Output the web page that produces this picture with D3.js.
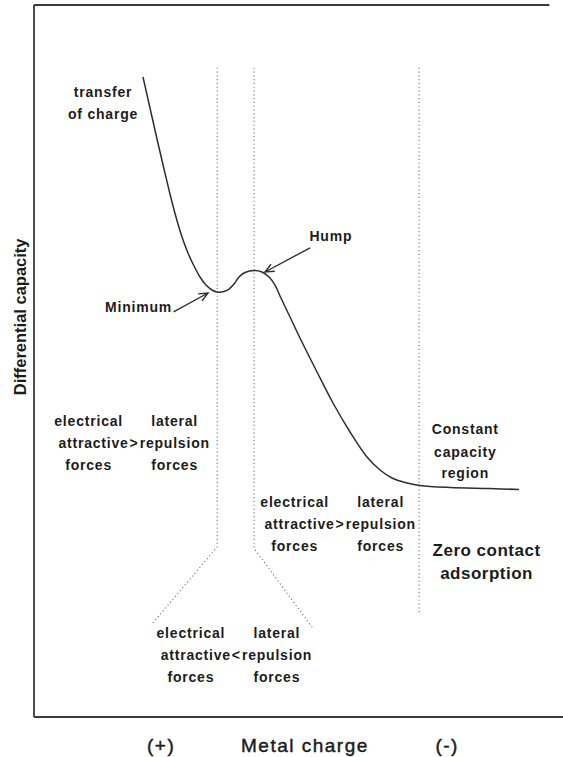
<!DOCTYPE html>
<html>
<head>
<meta charset="utf-8">
<script src="https://cdn.jsdelivr.net/npm/d3@7"></script>
<style>
  html, body { margin: 0; padding: 0; background: #fff; }
  svg { display: block; }
  text { font-family: "Liberation Sans", Arial, Helvetica, sans-serif; fill: #1c1c1c; }
</style>
</head>
<body>
<svg id="chart" width="563" height="757"></svg>
<script>
// Differential capacity (arbitrary units) against metal charge (arbitrary units, + on the left)
const charge   = [21.00, 22.35, 23.70, 25.05, 26.20, 27.36, 28.52, 29.67, 30.83, 31.98, 33.14, 34.30, 35.26, 36.61, 37.57, 38.54, 39.50, 40.66, 42.39, 43.93, 45.28, 46.44, 47.40, 49.33, 51.25, 54.53, 57.61, 60.89, 64.16, 66.67, 68.98, 71.48, 74.37, 80.15, 87.86, 93.45];
const capacity = [89.89, 85.53, 81.18, 76.97, 73.46, 70.22, 67.42, 65.17, 63.34, 61.80, 60.67, 59.97, 59.69, 59.76, 60.11, 60.81, 61.80, 62.43, 62.71, 62.50, 61.80, 60.67, 59.13, 56.18, 53.23, 48.46, 44.10, 40.03, 36.52, 34.69, 33.57, 32.94, 32.51, 32.23, 32.09, 31.95];

// Dotted region boundaries, as [charge, capacity] polylines
const boundaryA = [[35.3, 91.2], [35.3, 23.9], [22.9, 13.2]];
const boundaryB = [[42.4, 91.2], [42.4, 23.7], [53.6, 12.6]];
const boundaryC = [[74.2, 91.2], [74.2, 14.6]];

// Axis captions
const xAxisLabel = "Metal charge";
const xAxisEnds  = ["(+)", "(-)"];
const yAxisLabel = "Differential capacity";

// Force-balance captions: [left word, relation, right word, centre charge, top capacity]
const forceCaptions = [
  ["electrical", "attractive", ">", "lateral", "repulsion", 19.2, 41.6],
  ["electrical", "attractive", "<", "lateral", "repulsion", 38.9, 11.8],
  ["electrical", "attractive", ">", "lateral", "repulsion", 58.9, 30.2]
];

const svg = d3.select("#chart");

// Plot frame and scales
const frame = { left: 34, top: 5, right: 553, bottom: 717 };
const x = d3.scaleLinear().domain([0, 100]).range([frame.left, frame.right]);
const y = d3.scaleLinear().domain([0, 100]).range([frame.bottom, frame.top]);

// Frame: left, top and bottom edges
const frameG = svg.append("g").attr("stroke", "#3a3a3a").attr("stroke-width", 1.8).attr("fill", "none");
frameG.append("line").attr("x1", x(0)).attr("x2", x(0)).attr("y1", y(100)).attr("y2", y(0));
frameG.append("line").attr("x1", x(0)).attr("x2", x(99.3)).attr("y1", y(100)).attr("y2", y(100));
frameG.append("line").attr("x1", x(0)).attr("x2", 563).attr("y1", y(0)).attr("y2", y(0));

// Dotted boundaries
const polyline = d3.line().x(d => x(d[0])).y(d => y(d[1]));
svg.append("g")
  .selectAll("path")
  .data([boundaryA, boundaryB, boundaryC])
  .join("path")
  .attr("d", polyline)
  .attr("fill", "none")
  .attr("stroke", "#737373")
  .attr("stroke-width", 1.1)
  .attr("stroke-dasharray", "1.2,2.6");

// Capacity curve
const curve = d3.line()
  .x((d, i) => x(charge[i]))
  .y((d, i) => y(capacity[i]))
  .curve(d3.curveCatmullRom.alpha(0.5));
svg.append("path")
  .attr("d", curve(charge))
  .attr("fill", "none")
  .attr("stroke", "#2e2e2e")
  .attr("stroke-width", 1.5);

// Open arrowhead marker
svg.append("defs").append("marker")
  .attr("id", "arrow")
  .attr("viewBox", "-10 -6 12 12")
  .attr("refX", 0).attr("refY", 0)
  .attr("markerWidth", 12).attr("markerHeight", 12)
  .attr("markerUnits", "userSpaceOnUse")
  .attr("orient", "auto")
  .append("path")
  .attr("d", "M-9,-4 L0,0 L-9,4")
  .attr("fill", "none")
  .attr("stroke", "#2e2e2e")
  .attr("stroke-width", 1.4);

// Annotation arrows pointing at the minimum (index 12) and the hump (index 18)
const minIdx = 12, humpIdx = 18;
svg.append("line")
  .attr("x1", x(26.9)).attr("y1", y(56.9))
  .attr("x2", x(charge[minIdx]) - 9).attr("y2", y(capacity[minIdx]) + 1)
  .attr("stroke", "#2e2e2e").attr("stroke-width", 1.4)
  .attr("marker-end", "url(#arrow)");
svg.append("line")
  .attr("x1", x(53.2)).attr("y1", y(65.9))
  .attr("x2", x(charge[humpIdx]) + 11).attr("y2", y(capacity[humpIdx]) + 1.5)
  .attr("stroke", "#2e2e2e").attr("stroke-width", 1.4)
  .attr("marker-end", "url(#arrow)");

// Text helper
function label(txt, px, py, opts = {}) {
  const t = svg.append("text")
    .attr("x", px).attr("y", py)
    .attr("dy", "0.35em")
    .attr("text-anchor", opts.anchor || "middle")
    .attr("font-size", opts.size || 14)
    .attr("font-weight", opts.weight || "bold")
    .attr("letter-spacing", opts.ls != null ? opts.ls : 0.8)
    .text(txt);
  if (opts.heavy) t.attr("stroke", "#1c1c1c").attr("stroke-width", opts.heavy);
  return t;
}

// Curve annotations
label("transfer", x(13.3), y(87.8));
label("of charge", x(13.3), y(84.7));
label("Minimum", x(26.6), y(57.6), { anchor: "end" });
label("Hump", x(57.2), y(67.6));
label("Constant", x(83.1), y(40.4));
label("capacity", x(83.1), y(37.2));
label("region", x(83.1), y(34.3));
label("Zero contact", x(87.2), y(23.5), { size: 17, ls: 0.5 });
label("adsorption", x(87.2), y(20.2), { size: 17, ls: 0.5 });

// Force-balance captions
const lineGap = 22;
forceCaptions.forEach(([l1, l2, rel, r1, r2, cx, cy]) => {
  const px = x(cx), py = y(cy);
  label(l1, px - 45, py);
  label(l2, px - 5, py + lineGap, { anchor: "end" });
  label(rel, px, py + lineGap, { ls: 0 });
  label(r2, px + 6, py + lineGap, { anchor: "start" });
  label(r1, px + 41, py);
  label("forces", px - 45, py + 2 * lineGap);
  label("forces", px + 41, py + 2 * lineGap);
});

// Axis captions
const axisOpts = { size: 19, ls: 1.5, weight: "normal", heavy: 0.45 };
label(xAxisLabel, x(52.2), 745, axisOpts);
label(xAxisEnds[0], x(24.5), 745, axisOpts);
label(xAxisEnds[1], x(79.6), 745, axisOpts);
svg.append("text")
  .attr("transform", `translate(20, ${y(56.2)}) rotate(-90)`)
  .attr("dy", "0.35em")
  .attr("text-anchor", "middle")
  .attr("font-size", 16.5)
  .attr("font-weight", "bold")
  .text(yAxisLabel);
</script>
</body>
</html>
